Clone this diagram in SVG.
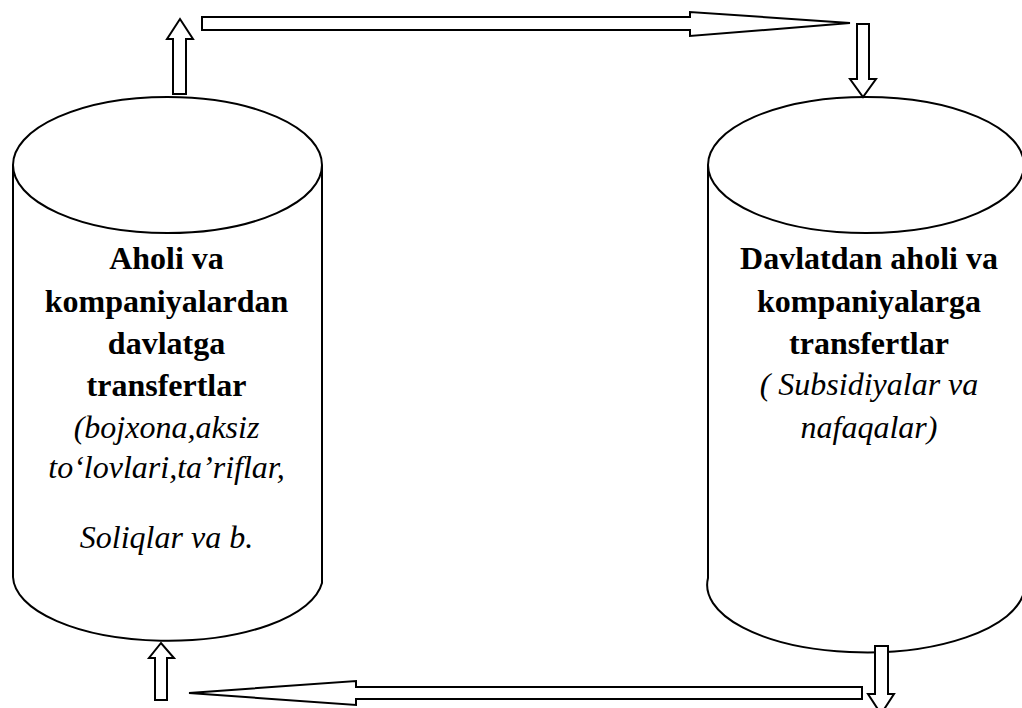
<svg xmlns="http://www.w3.org/2000/svg" width="1022" height="708" viewBox="0 0 1022 708">
  <style>
    .shape { fill: #ffffff; stroke: #000000; stroke-width: 2; stroke-linejoin: miter; }
    .arrow { fill: #ffffff; stroke: #000000; stroke-width: 2; stroke-linejoin: miter; }
    .bold { font-family: "Liberation Serif", "Times New Roman", serif; font-weight: bold; font-size: 32px; fill: #000; text-anchor: middle; }
    .ital { font-family: "Liberation Serif", "Times New Roman", serif; font-style: italic; font-size: 32px; fill: #000; text-anchor: middle; }
  </style>
  <rect x="0" y="0" width="1022" height="708" fill="#ffffff"/>

  <!-- Left cylinder: transfers from households and firms to the state -->
  <g id="node-left">
    <path class="shape" d="M13,165 L13,577 A155,65 0 0 0 322,583 L322,165"/>
    <ellipse class="shape" cx="167.5" cy="165" rx="154.5" ry="68"/>
    <text class="bold" x="166.5" y="269">Aholi va</text>
    <text class="bold" x="166.5" y="312">kompaniyalardan</text>
    <text class="bold" x="166.5" y="354">davlatga</text>
    <text class="bold" x="166.5" y="396">transfertlar</text>
    <text class="ital" x="166.5" y="438">(bojxona,aksiz</text>
    <text class="ital" x="166.5" y="478">to‘lovlari,ta’riflar,</text>
    <text class="ital" x="166.5" y="548">Soliqlar va b.</text>
  </g>

  <!-- Right cylinder: transfers from the state to households and firms -->
  <g id="node-right">
    <path class="shape" d="M708,165 L708,578 A158,67 0 0 0 1024,592 L1024,165"/>
    <ellipse class="shape" cx="866" cy="165" rx="158" ry="68"/>
    <text class="bold" x="869" y="269">Davlatdan aholi va</text>
    <text class="bold" x="869" y="312">kompaniyalarga</text>
    <text class="bold" x="869" y="354">transfertlar</text>
    <text class="ital" x="869" y="395">( Subsidiyalar va</text>
    <text class="ital" x="869" y="438">nafaqalar)</text>
  </g>

  <!-- Block arrows forming the circular flow -->
  <g id="connectors">
    <polygon class="arrow" points="173,94 173,39 167,39 180,19 193,39 186,39 186,94"/>
    <polygon class="arrow" points="202,17 690,17 690,12 850,23 690,36 690,30 202,30"/>
    <polygon class="arrow" points="857,24 869,24 869,79 876,79 863,97 850,79 857,79"/>
    <polygon class="arrow" points="875,646 888,646 888,694 894,694 881,714 868,694 875,694"/>
    <polygon class="arrow" points="862,687 862,699 356,699 356,705 189,693 356,681 356,687"/>
    <polygon class="arrow" points="155,700 155,658 149,658 161,643 174,658 167,658 167,700"/>
  </g>
</svg>
